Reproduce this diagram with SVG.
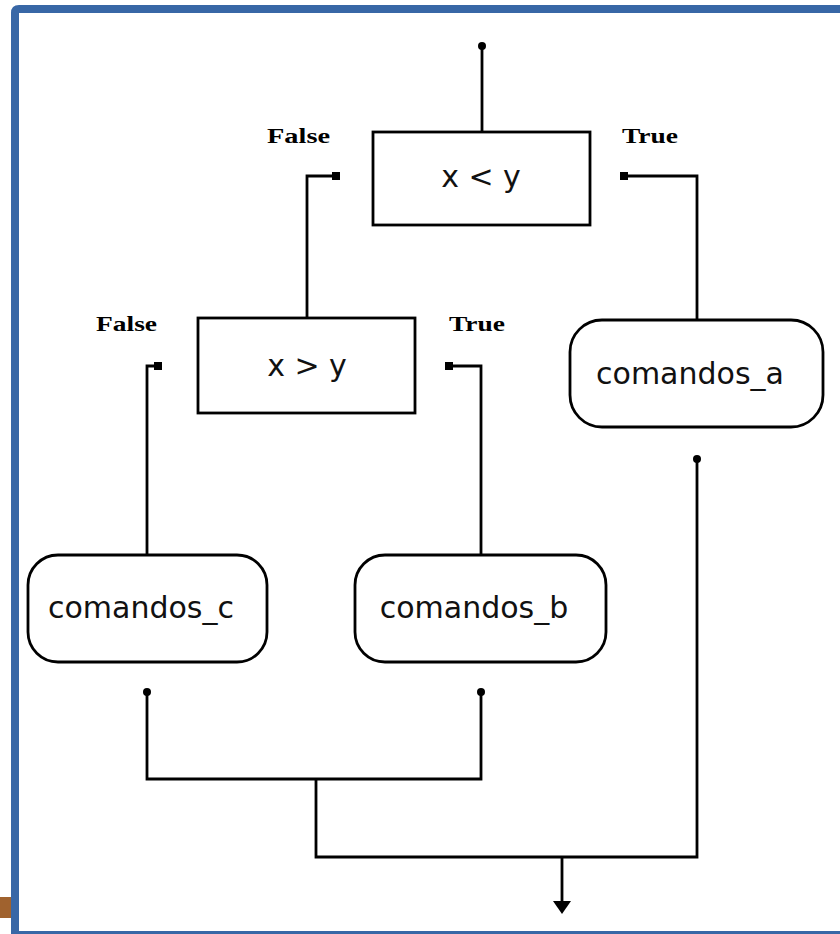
<svg xmlns="http://www.w3.org/2000/svg" width="840" height="934" viewBox="0 0 840 934">
<style>
.ln{fill:none;stroke:#000;stroke-width:2.8}
.box{fill:#fff;stroke:#000;stroke-width:2.8}
.lbl{font-family:"Liberation Serif",serif;font-weight:bold;font-size:21px;fill:#000}
.txt{font-family:"DejaVu Sans",sans-serif;font-size:30px;fill:#111}
</style>
<rect x="0" y="0" width="840" height="934" fill="#fff"/>
<rect x="0" y="897" width="12" height="21" fill="#a0622e"/>
<path d="M15,934 V13 Q15,9 19,9 H840" fill="none" stroke="#3867a6" stroke-width="8"/>
<rect x="12" y="931" width="828" height="3" fill="#3867a6"/>
<g id="connectors">
<path class="ln" d="M482,46 V132"/>
<circle cx="482" cy="46" r="4"/>
<path class="ln" d="M336,176 H307 V318"/>
<rect x="332" y="172" width="8" height="8"/>
<path class="ln" d="M624,176 H697 V320"/>
<rect x="620" y="172" width="8" height="8"/>
<path class="ln" d="M158,366 H147 V555"/>
<rect x="154" y="362" width="8" height="8"/>
<path class="ln" d="M449,366 H481 V555"/>
<rect x="445" y="362" width="8" height="8"/>
<path class="ln" d="M147,692 V779 H481 V692"/>
<circle cx="147" cy="692" r="4"/>
<circle cx="481" cy="692" r="4"/>
<path class="ln" d="M316,779 V857 H697 V459"/>
<circle cx="697" cy="459" r="4"/>
<path class="ln" d="M562,857 V903"/>
<path d="M553,901 L571,901 L562,914 Z" fill="#000"/>
</g>
<g id="n_xlty">
<rect class="box" x="373" y="132" width="217" height="93"/>
<text class="txt" x="481" y="187" text-anchor="middle">x &lt; y</text>
</g>
<g id="n_xgty">
<rect class="box" x="198" y="318" width="217" height="95"/>
<text class="txt" x="307" y="376" text-anchor="middle">x &gt; y</text>
</g>
<g id="n_cmd_a">
<rect class="box" x="570" y="320" width="253" height="107" rx="32"/>
<text class="txt" x="690" y="384" text-anchor="middle">comandos_a</text>
</g>
<g id="n_cmd_c">
<rect class="box" x="28" y="555" width="239" height="107" rx="30"/>
<text class="txt" x="141" y="618" text-anchor="middle">comandos_c</text>
</g>
<g id="n_cmd_b">
<rect class="box" x="355" y="555" width="251" height="107" rx="30"/>
<text class="txt" x="474" y="618" text-anchor="middle">comandos_b</text>
</g>
<g id="labels">
<text class="lbl" x="267" y="143" textLength="63" lengthAdjust="spacingAndGlyphs">False</text>
<text class="lbl" x="622" y="143" textLength="56" lengthAdjust="spacingAndGlyphs">True</text>
<text class="lbl" x="96" y="331" textLength="61" lengthAdjust="spacingAndGlyphs">False</text>
<text class="lbl" x="449" y="331" textLength="56" lengthAdjust="spacingAndGlyphs">True</text>
</g>
</svg>
